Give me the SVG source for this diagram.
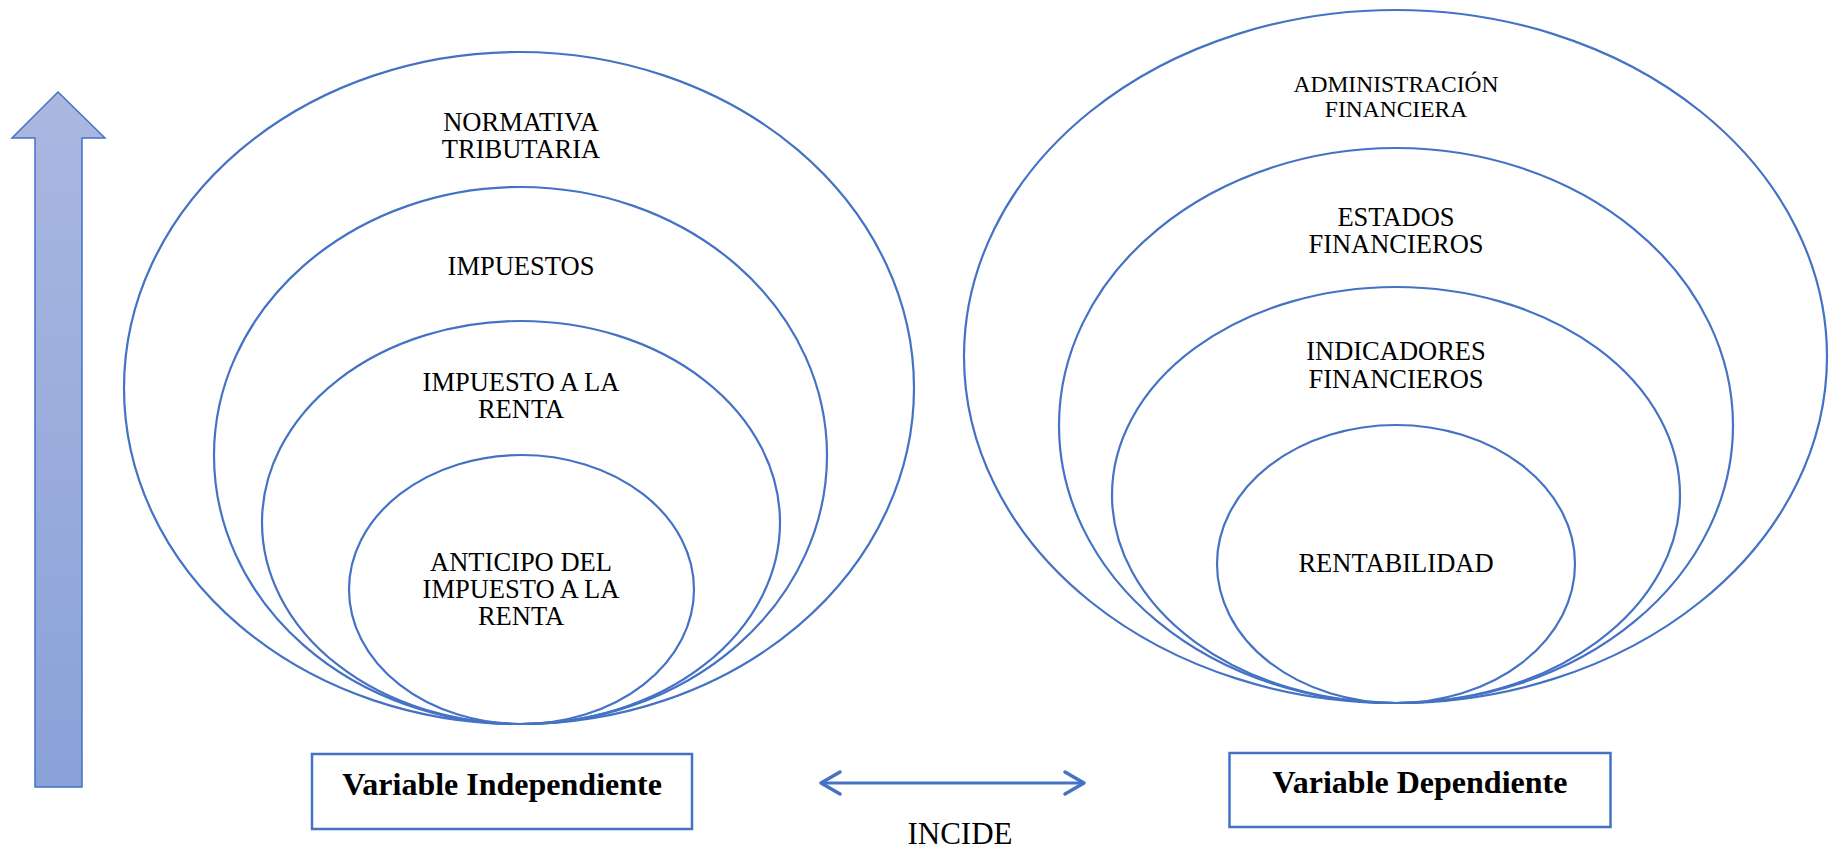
<svg xmlns="http://www.w3.org/2000/svg" width="1832" height="849" viewBox="0 0 1832 849">
<style>
.ring{fill:none;stroke:#4472C4;stroke-width:2.2}
.lbl{font-family:"Liberation Serif","Times New Roman",serif;font-size:26.5px;fill:#000;text-anchor:middle}
.sm{font-size:23.5px}
.box{fill:#fff;stroke:#4472C4;stroke-width:2.5}
.btxt{font-family:"Liberation Serif","Times New Roman",serif;font-size:32px;font-weight:bold;fill:#000;text-anchor:middle}
.conn{stroke:#4472C4;stroke-width:3;fill:none}
</style>
<defs>
<linearGradient id="ag" x1="0" y1="0" x2="0" y2="1">
<stop offset="0" stop-color="#AAB8E1"/>
<stop offset="1" stop-color="#8AA1D8"/>
</linearGradient>
<marker id="chev" viewBox="-24 -14 28 28" refX="0" refY="0" markerWidth="28" markerHeight="28" markerUnits="userSpaceOnUse" orient="auto-start-reverse">
<path d="M-19,-11 L0,0 L-19,11" fill="none" stroke="#4472C4" stroke-width="3.5" stroke-linecap="round" stroke-linejoin="round"/>
</marker>
</defs>
<rect width="1832" height="849" fill="#fff"/>

<g id="up-arrow">
<polygon points="58,92 105,138 82,138 82,787 35,787 35,138 12,138" fill="url(#ag)" stroke="#4472C4" stroke-width="1.5"/>
</g>

<g id="normativa-tributaria">
<ellipse class="ring" cx="519" cy="388" rx="395" ry="336"/>
<text class="lbl" x="521" y="130.5">NORMATIVA</text>
<text class="lbl" x="521" y="157.5">TRIBUTARIA</text>
</g>
<g id="impuestos">
<ellipse class="ring" cx="520.5" cy="455.5" rx="306.5" ry="268.5"/>
<text class="lbl" x="521" y="275">IMPUESTOS</text>
</g>
<g id="impuesto-renta">
<ellipse class="ring" cx="521" cy="522.5" rx="259" ry="201.5"/>
<text class="lbl" x="521" y="391">IMPUESTO A LA</text>
<text class="lbl" x="521" y="418">RENTA</text>
</g>
<g id="anticipo">
<ellipse class="ring" cx="521.5" cy="589.5" rx="172.5" ry="134.5"/>
<text class="lbl" x="521" y="571">ANTICIPO DEL</text>
<text class="lbl" x="521" y="598">IMPUESTO A LA</text>
<text class="lbl" x="521" y="625">RENTA</text>
</g>

<g id="administracion-financiera">
<ellipse class="ring" cx="1395.5" cy="356.5" rx="431.5" ry="346.5"/>
<text class="lbl sm" x="1396" y="92">ADMINISTRACIÓN</text>
<text class="lbl sm" x="1396" y="116.5">FINANCIERA</text>
</g>
<g id="estados-financieros">
<ellipse class="ring" cx="1396" cy="425.5" rx="337" ry="277.5"/>
<text class="lbl" x="1396" y="226">ESTADOS</text>
<text class="lbl" x="1396" y="253">FINANCIEROS</text>
</g>
<g id="indicadores-financieros">
<ellipse class="ring" cx="1396" cy="495" rx="284" ry="208"/>
<text class="lbl" x="1396" y="360">INDICADORES</text>
<text class="lbl" x="1396" y="387.5">FINANCIEROS</text>
</g>
<g id="rentabilidad">
<ellipse class="ring" cx="1396" cy="564" rx="179" ry="139"/>
<text class="lbl" x="1396" y="572">RENTABILIDAD</text>
</g>

<g id="variable-independiente">
<rect class="box" x="312" y="754" width="380" height="75"/>
<text class="btxt" x="502" y="795">Variable Independiente</text>
</g>
<g id="variable-dependiente">
<rect class="box" x="1229.5" y="753" width="381" height="74"/>
<text class="btxt" x="1420" y="793">Variable Dependiente</text>
</g>

<g id="connectors">
<line class="conn" x1="821" y1="783" x2="1084" y2="783" marker-start="url(#chev)" marker-end="url(#chev)"/>
<text class="lbl" x="960" y="844" style="font-size:31px">INCIDE</text>
</g>
</svg>
